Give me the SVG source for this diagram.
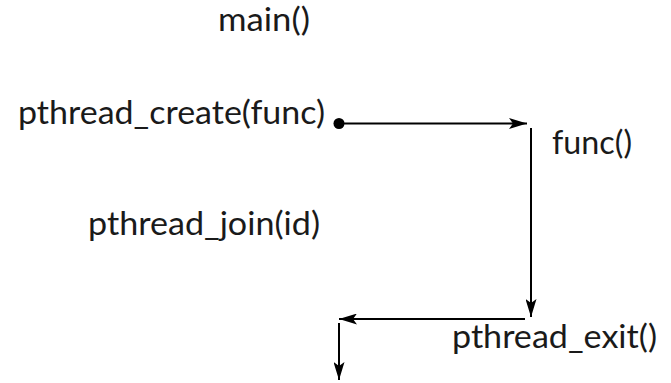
<svg xmlns="http://www.w3.org/2000/svg" width="671" height="383" viewBox="0 0 671 383">
<style>
.t{font-family:Lato,"Open Sans","Liberation Sans",sans-serif;font-size:32px;fill:#1a1a1a}
.c{stroke:#000;stroke-width:2;fill:none}
</style>
<defs>
<marker id="ah" markerWidth="18" markerHeight="11" refX="18" refY="5.5" orient="auto" markerUnits="userSpaceOnUse">
<path d="M0,0 L18,5.5 L0,11 L4,5.5 Z" fill="#000"/>
</marker>
</defs>
<rect width="671" height="383" fill="#fff"/>
<g id="main"><text class="t" x="218" y="31" textLength="92" lengthAdjust="spacingAndGlyphs">main()</text></g>
<g id="create"><text class="t" x="18" y="124" textLength="307" lengthAdjust="spacingAndGlyphs">pthread_create(func)</text></g>
<g id="func"><text class="t" x="552" y="154" textLength="80" lengthAdjust="spacingAndGlyphs">func()</text></g>
<g id="join"><text class="t" x="88" y="235" textLength="232" lengthAdjust="spacingAndGlyphs">pthread_join(id)</text></g>
<g id="exit"><text class="t" x="452" y="348" textLength="205" lengthAdjust="spacingAndGlyphs">pthread_exit()</text></g>
<g id="connectors">
<circle cx="339" cy="123.5" r="5.5" fill="#000"/>
<line class="c" x1="339" y1="123.5" x2="527" y2="123.5" marker-end="url(#ah)"/>
<line class="c" x1="531" y1="128" x2="531" y2="317" marker-end="url(#ah)"/>
<line class="c" x1="525" y1="319" x2="339" y2="319" marker-end="url(#ah)"/>
<line class="c" x1="339" y1="323" x2="339" y2="380" marker-end="url(#ah)"/>
</g>
</svg>
